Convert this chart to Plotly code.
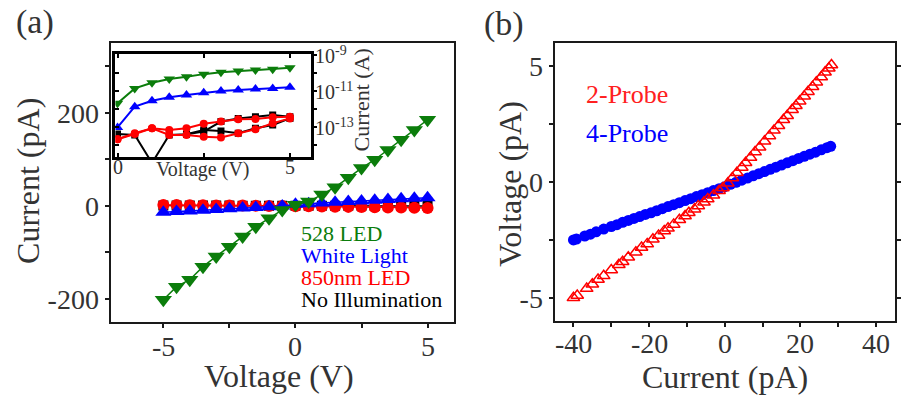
import plotly.graph_objects as go

# ---------------- Panel (a): I-V under illumination ----------------
volt_a = [-5.0, -4.5, -4.0, -3.5, -3.0, -2.5, -2.0, -1.5, -1.0, -0.5, 0.0,
          0.5, 1.0, 1.5, 2.0, 2.5, 3.0, 3.5, 4.0, 4.5, 5.0]
cur_528 = [-202, -174, -159, -131, -109, -88, -66, -45, -27, -9, 2,
           9, 24, 40, 60, 81, 99, 120, 142, 163, 185]
cur_white = [-14, -12.5, -11, -9.5, -8, -6.5, -5, -3.5, -2, -0.5, 3,
             4.5, 6, 7.5, 9, 10.5, 12, 13.5, 15, 16, 17]
cur_850 = [1.5, 1.5, 1.2, 1.0, 0.8, 0.6, 0.3, 0.0, -0.3, -0.5, -0.8,
           -1.2, -1.6, -2.0, -2.4, -2.8, -3.2, -3.6, -4.0, -4.3, -4.6]
cur_dark = [0.5, 0.5, 0.4, 0.4, 0.3, 0.3, 0.2, 0.2, 0.1, 0.1, 0.0,
            0.0, -0.1, -0.1, -0.2, -0.2, -0.3, -0.3, -0.4, -0.4, -0.5]
ticks_a_x = [-5, 0, 5]

# Inset: |I| on a log scale, forward (0 -> 5 V) and return sweeps
volt_in = [0.0, 0.5, 1.0, 1.5, 2.0, 2.5, 3.0, 3.5, 4.0, 4.5, 5.0]
volt_in_back = [5.0, 4.5, 4.0, 3.5, 3.0, 2.5, 2.0, 1.5, 1.0, 0.5, 0.0]
volt_in_back_dark = [5.0, 4.5, 4.0, 3.5, 3.0, 2.5, 2.0]
log_528 = [2.1e-12, 1.4e-11, 2.9e-11, 4.7e-11, 6.2e-11, 8.7e-11, 1.1e-10,
           1.3e-10, 1.5e-10, 1.65e-10, 1.95e-10]
log_white = [9.5e-14, 1.35e-12, 2.9e-12, 4.5e-12, 6.0e-12, 8.1e-12, 1.0e-11,
             1.15e-11, 1.3e-11, 1.4e-11, 1.6e-11]
log_850_fwd = [2.1e-14, 4.5e-14, 8.5e-14, 6.8e-14, 8.5e-14, 1.5e-13, 2.0e-13,
               2.7e-13, 2.75e-13, 3.5e-13, 3.7e-13]
log_850_back = [3.0e-13, 1.6e-13, 7.4e-14, 4.5e-14, 2.6e-14, 2.9e-14, 3.6e-14,
                3.6e-14, 8.5e-14, 4.1e-14, 2.1e-14]
log_dark_fwd = [4.1e-14, 3.6e-14, 1.0e-15, 3.6e-14, 3.9e-14, 6.8e-14, 6.0e-14,
                4.5e-14, 8.5e-14, 1.3e-13, 3.0e-13]
log_dark_back = [3.7e-13, 4.7e-13, 3.7e-13, 3.0e-13, 2.0e-13, 5.5e-14, 3.9e-14]
inset_y_ticks = [-9, -11, -13]
inset_x_ticks = [0, 5]

# ---------------- Panel (b): 2- vs 4-probe ----------------
cur_2p = [-40.0, -39.0, -36.5, -35.0, -33.5, -32.0, -30.0, -28.0, -27.0, -25.5,
          -23.5, -22.0, -20.5, -19.0, -17.5, -16.0, -15.0, -13.5, -12.0, -10.5,
          -9.5, -8.0, -7.0, -5.5, -4.5, -3.0, -1.5, -0.5, 0.8, 2.0, 3.2, 4.5,
          5.5, 6.8, 8.0, 9.2, 10.5, 11.8, 13.0, 14.2, 15.5, 16.5, 17.8, 18.8,
          19.8, 21.0, 22.0, 23.2, 24.2, 25.5, 26.5, 27.5, 28.2]
volt_2p = [-5.00, -4.90, -4.60, -4.41, -4.21, -4.05, -3.80, -3.57, -3.44, -3.25,
           -3.03, -2.83, -2.67, -2.47, -2.31, -2.11, -2.00, -1.83, -1.63, -1.47,
           -1.33, -1.17, -1.03, -0.87, -0.73, -0.57, -0.38, -0.26, -0.05, 0.17,
           0.40, 0.63, 0.83, 1.06, 1.30, 1.50, 1.76, 1.99, 2.23, 2.43, 2.69,
           2.86, 3.12, 3.29, 3.49, 3.70, 3.90, 4.11, 4.31, 4.53, 4.74, 4.91, 5.05]
cur_4p = [-40.0, -39.2, -37.0, -35.5, -34.0, -32.0, -30.0, -28.5, -27.0, -25.5,
          -24.0, -22.5, -21.0, -19.5, -18.0, -16.5, -15.0, -13.5, -12.0, -10.5,
          -9.0, -7.5, -6.0, -4.5, -3.0, -1.5, 0.0, 1.5, 3.0, 4.5, 6.0, 7.5, 9.0,
          10.5, 12.0, 13.5, 15.0, 16.5, 18.0, 19.5, 21.0, 22.5, 24.0, 25.5,
          27.0, 28.0]
volt_4p = [-2.50, -2.46, -2.33, -2.25, -2.15, -2.03, -1.92, -1.84, -1.74, -1.66,
           -1.57, -1.49, -1.40, -1.33, -1.24, -1.15, -1.06, -0.98, -0.89, -0.80,
           -0.72, -0.63, -0.55, -0.46, -0.37, -0.29, -0.20, -0.10, -0.01, 0.08,
           0.17, 0.27, 0.36, 0.45, 0.55, 0.64, 0.73, 0.83, 0.92, 1.02, 1.11,
           1.20, 1.29, 1.39, 1.48, 1.54]
ticks_b_x = [-40, -20, 0, 20, 40]

GREEN = "#0b7d0b"
BLUE = "#0000ff"
RED = "#ff0000"
BLACK = "#000000"
SERIF = "Liberation Serif, Times New Roman, DejaVu Serif, serif"
AXC = "#1a1a1a"
TXT = "#333333"
W, H = 901, 395

fig = go.Figure()

# main panel (a) traces, drawn back to front
fig.add_trace(go.Scatter(x=volt_a, y=cur_dark, mode="lines+markers",
                         line=dict(color=BLACK, width=1.5),
                         marker=dict(symbol="square", size=10, color=BLACK),
                         xaxis="x", yaxis="y"))
fig.add_trace(go.Scatter(x=volt_a, y=cur_850, mode="lines+markers",
                         line=dict(color=RED, width=1.5),
                         marker=dict(symbol="circle", size=12, color=RED),
                         xaxis="x", yaxis="y"))
fig.add_trace(go.Scatter(x=volt_a, y=cur_white, mode="lines+markers",
                         line=dict(color=BLUE, width=1.5),
                         marker=dict(symbol="triangle-up", size=14, color=BLUE),
                         xaxis="x", yaxis="y"))
fig.add_trace(go.Scatter(x=volt_a, y=cur_528, mode="lines+markers",
                         line=dict(color=GREEN, width=1.5),
                         marker=dict(symbol="triangle-down", size=15, color=GREEN),
                         xaxis="x", yaxis="y"))

# inset traces (log scale)
inset_sets = [
    (volt_in, log_dark_fwd, BLACK, "square", 7),
    (volt_in_back_dark, log_dark_back, BLACK, "square", 7),
    (volt_in, log_850_fwd, RED, "circle", 8),
    (volt_in_back, log_850_back, RED, "circle", 8),
    (volt_in, log_white, BLUE, "triangle-up", 10),
    (volt_in, log_528, GREEN, "triangle-down", 10),
]
for xs, ys, col, sym, sz in inset_sets:
    fig.add_trace(go.Scatter(x=xs, y=ys, mode="lines+markers",
                             line=dict(color=col, width=2),
                             marker=dict(symbol=sym, size=sz, color=col),
                             xaxis="x3", yaxis="y3"))

# panel (b) traces
fig.add_trace(go.Scatter(x=cur_4p, y=volt_4p, mode="markers",
                         marker=dict(symbol="circle", size=11, color=BLUE),
                         xaxis="x2", yaxis="y2"))
fig.add_trace(go.Scatter(x=cur_2p, y=volt_2p, mode="markers",
                         marker=dict(symbol="triangle-up-open", size=11,
                                     color=RED, line=dict(width=1.5, color=RED)),
                         xaxis="x2", yaxis="y2"))

tick_font = dict(family=SERIF, size=28, color=TXT)


def box_axis(**kw):
    base = dict(showline=True, linecolor=AXC, linewidth=2, showgrid=False,
                zeroline=False, ticks="outside", ticklen=4, tickwidth=2,
                tickcolor=AXC, tickfont=tick_font)
    base.update(kw)
    return base


def minor_ticks(vals):
    return dict(tickvals=vals, ticks="outside", ticklen=4, tickwidth=2,
                tickcolor=AXC)


fig.update_layout(
    width=W, height=H,
    margin=dict(l=0, r=0, t=0, b=0),
    paper_bgcolor="white", plot_bgcolor="white",
    showlegend=False,
    xaxis=box_axis(domain=[0.1232, 0.5061], anchor="y", range=[-7, 6],
                   mirror=True, tickvals=ticks_a_x, showticklabels=False,
                   minor=minor_ticks([-2.5, 2.5])),
    yaxis=box_axis(domain=[0.1848, 0.8911], anchor="x", range=[-250, 350],
                   mirror=True, tickvals=[-200, 0, 200],
                   ticktext=["-200", "0", "200"],
                   minor=minor_ticks([-100, 100, 300])),
    xaxis2=box_axis(domain=[0.6182, 0.9978], anchor="y2", range=[-45, 45],
                    mirror=True, tickvals=ticks_b_x, showticklabels=False,
                    minor=minor_ticks([-30, -10, 10, 30])),
    yaxis2=box_axis(domain=[0.1873, 0.8911], anchor="x2", range=[-6, 6],
                    mirror="ticks", tickvals=[-5, 0, 5],
                    ticktext=["-5", "0", "5"],
                    minor=minor_ticks([-2.5, 2.5])),
    # inset axes: thick frame, labels placed separately
    xaxis3=dict(domain=[0.1287, 0.3463], anchor="y3", range=[-0.06, 5.6],
                showline=True, linecolor=BLACK, linewidth=3, mirror="ticks",
                showgrid=False, zeroline=False, ticks="inside", ticklen=4,
                tickwidth=2, tickcolor=BLACK, tickvals=[0, 2.5, 5],
                showticklabels=False),
    yaxis3=dict(domain=[0.6025, 0.8633], anchor="x3", type="log",
                range=[-14.67, -8.94], side="right", showline=True,
                linecolor=BLACK, linewidth=3, mirror=True, showgrid=False,
                zeroline=False, ticks="outside", ticklen=3, tickwidth=2,
                tickcolor=BLACK,
                tickvals=[1e-9, 1e-10, 1e-11, 1e-12, 1e-13, 1e-14],
                showticklabels=False),
    yaxis4=dict(overlaying="y3", anchor="x3", type="log",
                range=[-14.67, -8.94], side="left", showline=False,
                showgrid=False, zeroline=False, ticks="inside", ticklen=4,
                tickwidth=2, tickcolor=BLACK,
                tickvals=[1e-10, 1e-11, 1e-12, 1e-13, 1e-14],
                showticklabels=False),
)

# placeholder trace so the left inset tick axis is drawn
fig.add_trace(go.Scatter(x=[None], y=[None], xaxis="x3", yaxis="y4",
                         showlegend=False))


def note(text, x, y, size, color=TXT, angle=0, xanchor="center",
         yanchor="middle", xref="paper", yref="paper"):
    fig.add_annotation(text=text, x=x, y=y, xref=xref, yref=yref,
                       xanchor=xanchor, yanchor=yanchor, showarrow=False,
                       textangle=angle,
                       font=dict(family=SERIF, size=size, color=color))


# x tick labels, set close under each axis
for v in ticks_a_x:
    note(str(v), v, 1 - 346 / H, 28, xref="x")
for v in ticks_b_x:
    note(str(v), v, 1 - 343 / H, 28, xref="x2")

# axis titles
note("Voltage (V)", 280 / W, 1 - 376 / H, 32)
note("Current (pA)", 28 / W, 1 - 181 / H, 32, angle=-90)
note("Current (pA)", 728 / W, 1 - 377 / H, 32)
note("Voltage (pA)", 512 / W, 1 - 184 / H, 32, angle=-90)

# inset labels
for v in inset_y_ticks:
    note("10<sup>%d</sup>" % v, 1.01, v, 20, xanchor="left",
         xref="x3 domain", yref="y3")
for v in inset_x_ticks:
    note(str(v), v, 0.03, 20, yanchor="top", xref="x3", yref="y3 domain")
note("Voltage (V)", 204 / W, 1 - 169 / H, 20)
note("Current (A)", 363 / W, 1 - 100 / H, 22, angle=-90)

# legends
legend_a = [("528 LED", GREEN), ("White Light", BLUE),
            ("850nm LED", RED), ("No Illumination", BLACK)]
for i, (txt, col) in enumerate(legend_a):
    note(txt, 300 / W, 1 - (233 + 22 * i) / H, 22, color=col, xanchor="left")

legend_b = [("2-Probe", "#ff2020"), ("4-Probe", BLUE)]
for i, (txt, col) in enumerate(legend_b):
    note(txt, 587 / W, 1 - (95 + 38 * i) / H, 26, color=col, xanchor="left")

# panel labels
note("(a)", 35 / W, 1 - 22 / H, 34)
note("(b)", 506 / W, 1 - 24 / H, 34)

fig.write_html("out.html")
